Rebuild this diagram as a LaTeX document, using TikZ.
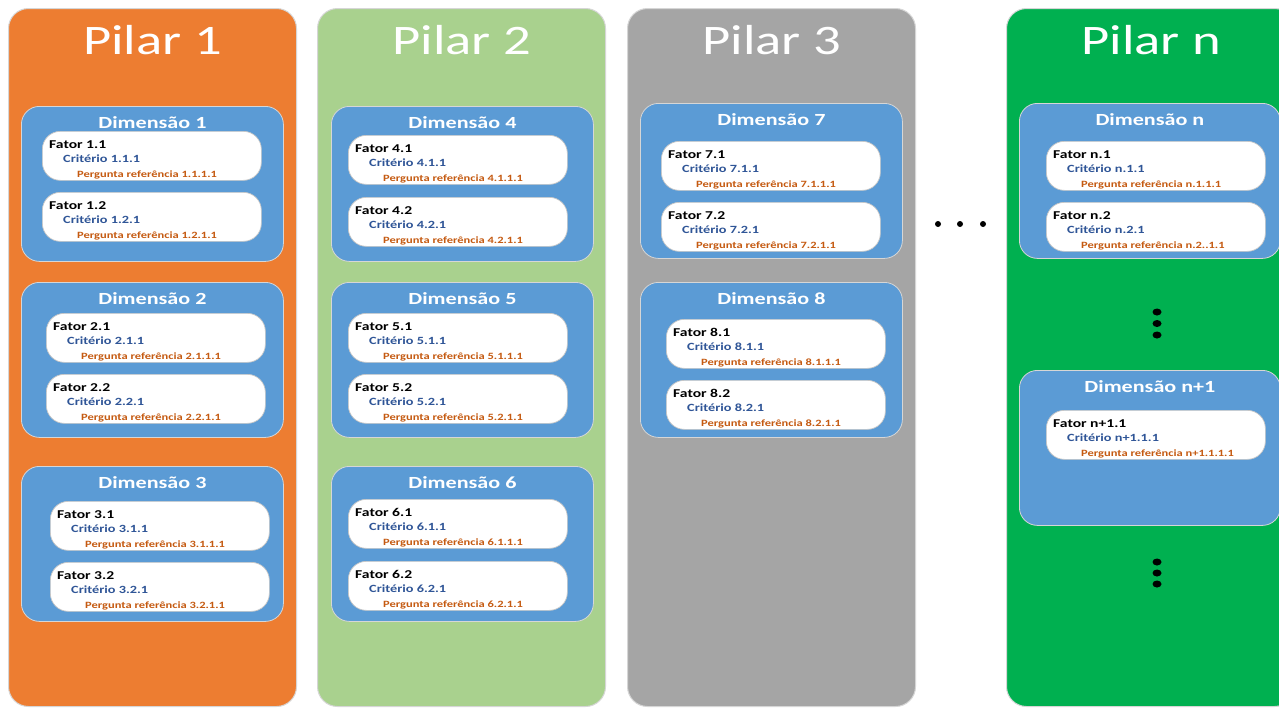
\documentclass[tikz,border=0pt]{standalone}
\usepackage{fontspec}
\newfontfamily\cf[FakeStretch=1.3]{Carlito}
\definecolor{pilarA}{HTML}{ED7D31}
\definecolor{pilarB}{HTML}{A9D18E}
\definecolor{pilarC}{HTML}{A5A5A5}
\definecolor{pilarN}{HTML}{00B050}
\definecolor{dimblue}{HTML}{5B9BD5}
\definecolor{critblue}{HTML}{2F5597}
\definecolor{pergorange}{HTML}{C55A11}
\definecolor{edge}{HTML}{D6D6D6}
\tikzset{
  pilarshape/.style={rectangle, rounded corners=20pt, draw=edge, line width=1pt,
    minimum width=288pt, minimum height=698pt, anchor=north west, inner sep=0pt},
  pilartitle/.style={text=white, font=\cf\fontsize{42}{46}\selectfont, anchor=base, inner sep=0pt},
  dimshape/.style={rectangle, rounded corners=18pt, fill=dimblue, draw=edge, line width=0.8pt,
    minimum width=262pt, minimum height=155pt, anchor=north west, inner sep=0pt},
  dimtitle/.style={text=white, font=\cf\bfseries\fontsize{17}{20}\selectfont, anchor=base, inner sep=0pt},
  fatorshape/.style={rectangle, rounded corners=18pt, fill=white, draw=gray!45, line width=0.7pt,
    minimum width=219pt, minimum height=49pt, anchor=north west, inner sep=0pt},
  fatortxt/.style={text=black, font=\cf\bfseries\fontsize{12}{14}\selectfont, anchor=base west, inner sep=0pt},
  crittxt/.style={text=critblue, font=\cf\bfseries\fontsize{11}{13}\selectfont, anchor=base west, inner sep=0pt},
  pergtxt/.style={text=pergorange, font=\cf\bfseries\fontsize{9.6}{11}\selectfont, anchor=base west, inner sep=0pt},
  hdot/.style={circle, fill=black, inner sep=0pt, minimum size=6pt},
  vdot/.style={ellipse, fill=black, inner sep=0pt, minimum width=9pt, minimum height=7pt},
}
\usetikzlibrary{shapes.geometric}
% one factor card: name, left, top, factor, criterion, question
\newcommand\fatorbox[6]{%
  \node[fatorshape] (#1) at (#2,#3) {};
  \node[fatortxt] (#1-f) at ([xshift=7pt, yshift=-17pt]#1.north west) {Fator #4};
  \node[crittxt] (#1-c) at ([xshift=21pt, yshift=-31.5pt]#1.north west) {Critério #5};
  \node[pergtxt] (#1-p) at ([xshift=35pt, yshift=-46pt]#1.north west) {Pergunta referência #6};
}
% one dimension panel: name, left, top, label
\newcommand\dimbox[4]{%
  \node[dimshape] (#1) at (#2,#3) {};
  \node[dimtitle] (#1-t) at ([yshift=-22pt]#1.north) {Dimensão #4};
}
\begin{document}
\begin{tikzpicture}[x=1pt, y=-1pt]
  \useasboundingbox (0,0) rectangle (1279,707);
  \clip (0,0) rectangle (1279,707);
  \fill[white] (0,0) rectangle (1279,707);

  % pillars
  \node[pilarshape, fill=pilarA] (p1) at (8,8) {};
  \node[pilarshape, fill=pilarB] (p2) at (317,8) {};
  \node[pilarshape, fill=pilarC] (p3) at (627,8) {};
  \node[pilarshape, fill=pilarN] (pn) at (1006,8) {};
  \node[pilartitle] (p1-t) at ([yshift=-46pt]p1.north) {Pilar 1};
  \node[pilartitle] (p2-t) at ([yshift=-46pt]p2.north) {Pilar 2};
  \node[pilartitle] (p3-t) at ([yshift=-46pt]p3.north) {Pilar 3};
  \node[pilartitle] (pn-t) at (1151,54) {Pilar n};

  % Pilar 1
  \dimbox{d1}{21}{106}{1}
  \fatorbox{f11}{42}{131}{1.1}{1.1.1}{1.1.1.1}
  \fatorbox{f12}{42}{192}{1.2}{1.2.1}{1.2.1.1}
  \dimbox{d2}{21}{282}{2}
  \fatorbox{f21}{46}{313}{2.1}{2.1.1}{2.1.1.1}
  \fatorbox{f22}{46}{374}{2.2}{2.2.1}{2.2.1.1}
  \dimbox{d3}{21}{466}{3}
  \fatorbox{f31}{50}{501}{3.1}{3.1.1}{3.1.1.1}
  \fatorbox{f32}{50}{562}{3.2}{3.2.1}{3.2.1.1}

  % Pilar 2
  \dimbox{d4}{331}{106}{4}
  \fatorbox{f41}{348}{135}{4.1}{4.1.1}{4.1.1.1}
  \fatorbox{f42}{348}{197}{4.2}{4.2.1}{4.2.1.1}
  \dimbox{d5}{331}{282}{5}
  \fatorbox{f51}{348}{313}{5.1}{5.1.1}{5.1.1.1}
  \fatorbox{f52}{348}{374}{5.2}{5.2.1}{5.2.1.1}
  \dimbox{d6}{331}{466}{6}
  \fatorbox{f61}{348}{499}{6.1}{6.1.1}{6.1.1.1}
  \fatorbox{f62}{348}{561}{6.2}{6.2.1}{6.2.1.1}

  % Pilar 3
  \dimbox{d7}{640}{103}{7}
  \fatorbox{f71}{661}{141}{7.1}{7.1.1}{7.1.1.1}
  \fatorbox{f72}{661}{202}{7.2}{7.2.1}{7.2.1.1}
  \dimbox{d8}{640}{282}{8}
  \fatorbox{f81}{666}{319}{8.1}{8.1.1}{8.1.1.1}
  \fatorbox{f82}{666}{380}{8.2}{8.2.1}{8.2.1.1}

  % Pilar n
  \node[dimshape, minimum width=261pt] (dn) at (1019,103) {};
  \node[dimtitle] (dn-t) at ([yshift=-22pt]dn.north) {Dimensão n};
  \fatorbox{fn1}{1046}{141}{n.1}{n.1.1}{n.1.1.1}
  \fatorbox{fn2}{1046}{202}{n.2}{n.2.1}{n.2..1.1}
  \node[dimshape, minimum width=261pt] (dm) at (1019,370) {};
  \node[dimtitle] (dm-t) at ([yshift=-22pt]dm.north) {Dimensão n+1};
  \fatorbox{fm1}{1046}{410}{n+1.1}{n+1.1.1}{n+1.1.1.1}

  % ellipsis marks
  \node[hdot] (h1) at (938,224) {};
  \node[hdot] (h2) at (960,224) {};
  \node[hdot] (h3) at (983,224) {};
  \node[vdot] (v1) at (1157,312) {};
  \node[vdot] (v2) at (1157,323.5) {};
  \node[vdot] (v3) at (1157,335) {};
  \node[vdot] (w1) at (1157,562) {};
  \node[vdot] (w2) at (1157,573) {};
  \node[vdot] (w3) at (1157,584) {};
\end{tikzpicture}
\end{document}
